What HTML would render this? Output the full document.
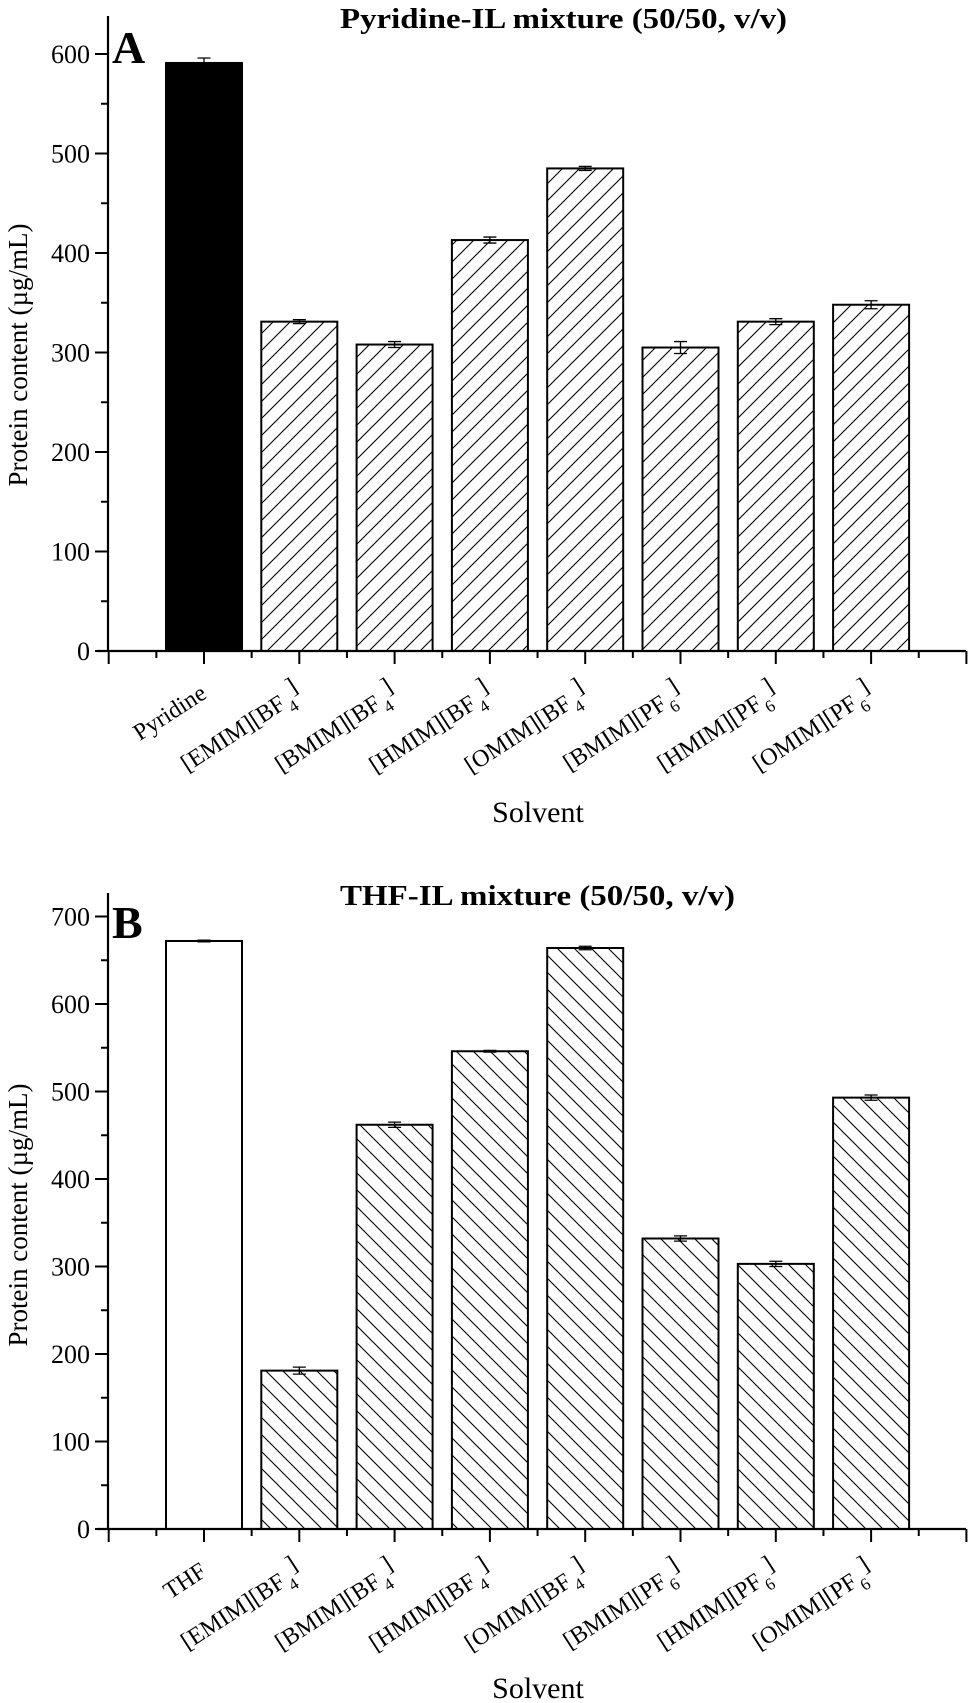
<!DOCTYPE html>
<html><head><meta charset="utf-8"><style>
html,body{margin:0;padding:0;background:#fff}
svg{display:block}
text{font-family:"Liberation Serif",serif;fill:#000}
</style></head><body>
<svg id="chart" width="970" height="1703" viewBox="0 0 970 1703" xmlns="http://www.w3.org/2000/svg">
<defs>
<pattern id="hatchA" patternUnits="userSpaceOnUse" width="17" height="17" patternTransform="rotate(0)">
<path d="M-2,19 L19,-2 M-2,2 L2,-2 M15,19 L19,15" stroke="#000" stroke-width="1.1"/>
</pattern>
<pattern id="hatchB" patternUnits="userSpaceOnUse" width="17" height="17">
<path d="M-2,-2 L19,19 M-2,15 L2,19 M15,-2 L19,2" stroke="#000" stroke-width="1.1"/>
</pattern>
</defs>
<g id="panelA"></g>
<g id="panelB"></g>
</svg>
<script>
const categoriesA = ["Pyridine","[EMIM][BF4]","[BMIM][BF4]","[HMIM][BF4]","[OMIM][BF4]","[BMIM][PF6]","[HMIM][PF6]","[OMIM][PF6]"];
const valuesA = [591, 331, 308, 413, 485, 305, 331, 348];
const errorsA = [5, 2, 3, 3, 2, 6, 3, 4];
const ticksA = [0, 100, 200, 300, 400, 500, 600];
const categoriesB = ["THF","[EMIM][BF4]","[BMIM][BF4]","[HMIM][BF4]","[OMIM][BF4]","[BMIM][PF6]","[HMIM][PF6]","[OMIM][PF6]"];
const valuesB = [672, 181, 462, 546, 664, 332, 303, 493];
const errorsB = [1, 4, 3, 1, 2, 3, 3, 3];
const ticksB = [0, 100, 200, 300, 400, 500, 600, 700];

const NS = "http://www.w3.org/2000/svg";
function mk(tag, attrs, parent){const e=document.createElementNS(NS,tag);for(const k in attrs)e.setAttribute(k,attrs[k]);parent.appendChild(e);return e;}

function labelText(parent, name, x, y){
  const t = mk("text",{x:x,y:y,"text-anchor":"end","font-size":"24",transform:"rotate(-33 "+x+" "+y+")"},parent);
  
  
  const m = name.match(/^(.*\[(?:BF|PF))(\d)\]$/);
  if(m){
    const a=mk("tspan",{},t); a.textContent=m[1];
    const s=mk("tspan",{"font-size":"17",dy:"8",dx:"2"},t); s.textContent=m[2];
    const c=mk("tspan",{dy:"-16",dx:"1"},t); c.textContent="]";
  } else t.textContent=name;
}

function drawPanel(g, opts){
  const {cats, vals, errs, ticks, y0, pxPerUnit, axisTop, firstFill, hatch, title, titleLen, titleY, letter, letterY, yTitleY, solventY} = opts;
  const axisX = 108, cx0 = 204, pitch = 95.3, bw = 76;
  const yScale = v => y0 - v*pxPerUnit;
  const xScale = i => cx0 + i*pitch;
  // bars
  cats.forEach((c,i)=>{
    const x = xScale(i)-bw/2, y = yScale(vals[i]);
    const r = mk("rect",{x:x,y:y,width:bw,height:y0-y,fill:i===0?firstFill:"url(#"+hatch+")",stroke:"#000","stroke-width":"2"},g);
    
    
    const yt=yScale(vals[i]+errs[i]), yb=yScale(vals[i]-errs[i]), cx=xScale(i);
    const e = mk("path",{d:`M${cx-6.5},${yt}H${cx+6.5}M${cx},${yt}V${yb}M${cx-6.5},${yb}H${cx+6.5}`,stroke:i===0&&firstFill==="#000"?"#000":"#000","stroke-width":"1.3",fill:"none"},g);
    
    
    labelText(g, c, cx+4, y0+46);
  });
  // y axis
  const ya = mk("line",{x1:axisX,y1:axisTop,x2:axisX,y2:y0,stroke:"#000","stroke-width":"2.2"},g);
  
  
  ticks.forEach(t=>{
    const y=yScale(t);
    mk("line",{x1:axisX-13,y1:y,x2:axisX,y2:y,stroke:"#000","stroke-width":"2"},g);
    const lb = mk("text",{x:axisX-18,y:y+9,"text-anchor":"end","font-size":"26"},g);
    
    
    lb.textContent=t;
    if(t+50<=ticks[ticks.length-1]+50 && yScale(t+50)>=axisTop){
      mk("line",{x1:axisX-7,y1:yScale(t+50),x2:axisX,y2:yScale(t+50),stroke:"#000","stroke-width":"2"},g);
    }
  });
  // x axis
  const xa = mk("line",{x1:97,y1:y0,x2:966,y2:y0,stroke:"#000","stroke-width":"2.2"},g);
  
  
  for(let i=-1;i<=8;i++){
    const x=xScale(i);
    mk("line",{x1:x,y1:y0,x2:x,y2:y0+13,stroke:"#000","stroke-width":"2"},g);
    if(i<8) mk("line",{x1:x+pitch/2,y1:y0,x2:x+pitch/2,y2:y0+7,stroke:"#000","stroke-width":"2"},g);
  }
  const tt = mk("text",{x:340,y:titleY,"font-size":"29","font-weight":"bold",textLength:titleLen,lengthAdjust:"spacingAndGlyphs"},g);
  
  
  tt.textContent=title;
  const lt = mk("text",{x:112,y:letterY,"font-size":"46","font-weight":"bold"},g);
  
  
  lt.textContent=letter;
  const yt = mk("text",{x:0,y:0,"font-size":"27","text-anchor":"middle",transform:`translate(27 ${yTitleY}) rotate(-90)`},g);
  
  
  yt.textContent="Protein content (\u00b5g/mL)";
  const st = mk("text",{x:538,y:solventY,"font-size":"30","text-anchor":"middle"},g);
  
  
  st.textContent="Solvent";
}

drawPanel(document.getElementById("panelA"),{cats:categoriesA,vals:valuesA,errs:errorsA,ticks:ticksA,y0:651,pxPerUnit:0.995,axisTop:16,firstFill:"#000",hatch:"hatchA",title:"Pyridine-IL mixture (50/50, v/v)",titleLen:447,titleY:28,letter:"A",letterY:63,yTitleY:355,solventY:822});
drawPanel(document.getElementById("panelB"),{cats:categoriesB,vals:valuesB,errs:errorsB,ticks:ticksB,y0:1529,pxPerUnit:0.875,axisTop:893,firstFill:"#fff",hatch:"hatchB",title:"THF-IL mixture (50/50, v/v)",titleLen:395,titleY:905,letter:"B",letterY:938,yTitleY:1215,solventY:1698});
</script>
</body></html>
